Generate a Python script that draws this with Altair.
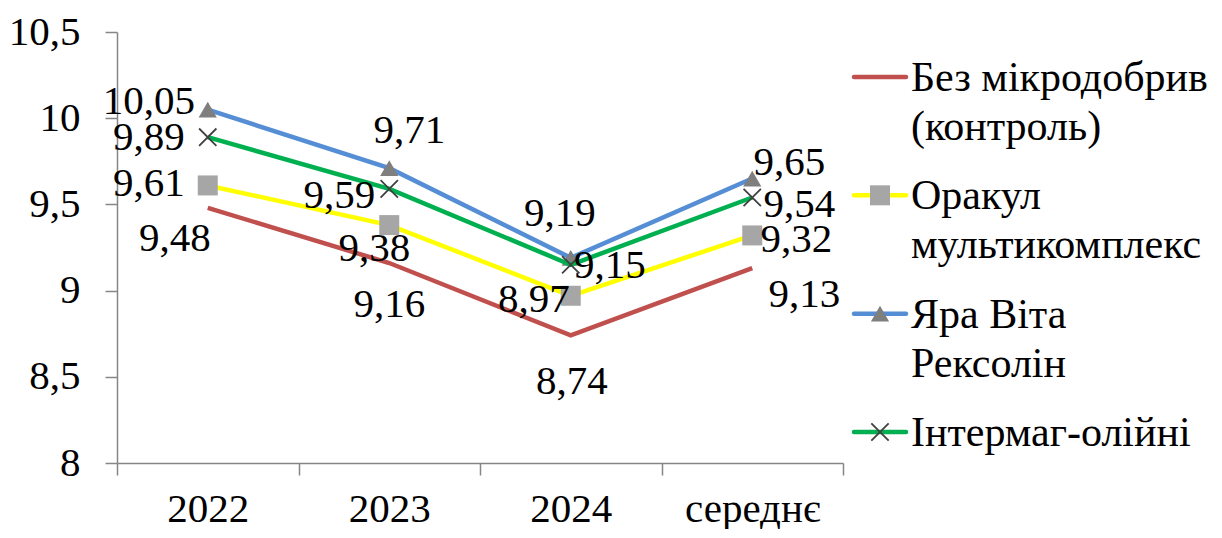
import altair as alt
import pandas as pd

categories = ["2022", "2023", "2024", "середнє"]
series_names = [
    "Без мікродобрив\n(контроль)",
    "Оракул\nмультикомплекс",
    "Яра Віта\nРексолін",
    "Інтермаг-олійні",
]
control = [9.48, 9.16, 8.74, 9.13]
oracle = [9.61, 9.38, 8.97, 9.32]
yara = [10.05, 9.71, 9.19, 9.65]
intermag = [9.89, 9.59, 9.15, 9.54]
y_ticks = [8, 8.5, 9, 9.5, 10, 10.5]

values = [control, oracle, yara, intermag]
line_colors = ["#C0504D", "#FFFF00", "#558ED5", "#00B050"]

FONT = "Times New Roman"
FS = 41

rows = []
for si, (name, vals) in enumerate(zip(series_names, values)):
    for ci, (cat, v) in enumerate(zip(categories, vals)):
        rows.append({"series": name, "s": si, "cat": cat, "c": ci, "value": v})
df = pd.DataFrame(rows)

nudge = {
    (0, 0): (-33, 31), (0, 1): (0, 42), (0, 2): (1, 47), (0, 3): (52, 27),
    (1, 0): (-59, -1), (1, 1): (-15, 24), (1, 2): (-37, 4), (1, 3): (44, 5),
    (2, 0): (-59, -8), (2, 1): (20, -37), (2, 2): (-11, -44), (2, 3): (37, -16),
    (3, 0): (-59, 1), (3, 1): (-50, 7), (3, 2): (39, 1), (3, 3): (47, 7),
}

base = alt.Chart(df)
x_enc = alt.X(
    "cat:N",
    sort=categories,
    scale=alt.Scale(type="band", paddingInner=0, paddingOuter=0),
    axis=alt.Axis(
        title=None, labelAngle=0, tickBand="extent", tickSize=12,
        labelPadding=14, domainColor="#868686", tickColor="#868686",
        domainWidth=1.5, tickWidth=1.5,
        labelFont=FONT, labelFontSize=FS, labelColor="black",
    ),
)
y_enc = alt.Y(
    "value:Q", scale=alt.Scale(domain=[8, 10.5], nice=False, zero=False),
    axis=alt.Axis(
        title=None, values=y_ticks, grid=False, tickSize=12, labelPadding=25,
        domainColor="#868686", tickColor="#868686", domainWidth=1.5, tickWidth=1.5,
        labelFont=FONT, labelFontSize=FS, labelColor="black",
        labelExpr="replace(format(datum.value, '~g'), '.', ',')",
    ),
)

main_layers = []
for si in range(4):
    main_layers.append(
        base.transform_filter(alt.datum.s == si)
        .mark_line(strokeWidth=4.5, color=line_colors[si])
        .encode(x=x_enc, y=y_enc)
    )
    if si == 1:
        main_layers.append(
            base.transform_filter(alt.datum.s == si)
            .mark_point(shape="square", filled=True, size=400, color="#A6A6A6", opacity=1)
            .encode(x=x_enc, y=y_enc)
        )
    elif si == 2:
        main_layers.append(
            base.transform_filter(alt.datum.s == si)
            .mark_point(shape="triangle-up", filled=True, size=330, color="#7F7F7F", opacity=1)
            .encode(x=x_enc, y=y_enc)
        )
    elif si == 3:
        main_layers.append(
            base.transform_filter(alt.datum.s == si)
            .mark_point(shape="M-1,-1L1,1M-1,1L1,-1", filled=False, size=300,
                        color="#404040", strokeWidth=1.8, opacity=1)
            .encode(x=x_enc, y=y_enc)
        )

for (si, ci), (dx, dy) in nudge.items():
    main_layers.append(
        base.transform_filter((alt.datum.s == si) & (alt.datum.c == ci))
        .transform_calculate(lbl="replace(format(datum.value, '.2f'), '.', ',')")
        .mark_text(font=FONT, fontSize=FS, color="black", dx=dx, dy=dy,
                   align="center", baseline="middle")
        .encode(x=x_enc, y=y_enc, text="lbl:N")
    )

main = alt.layer(*main_layers)

leg_df = pd.DataFrame({"series": series_names, "s": list(range(4))})
lbase = alt.Chart(leg_df)
ly = alt.Y("series:N", sort=series_names,
           scale=alt.Scale(type="point", domain=series_names, range=[45, 400], padding=0),
           axis=None)
leg_layers = []
for si in range(4):
    leg_layers.append(
        lbase.transform_filter(alt.datum.s == si)
        .mark_rule(strokeWidth=4.5, color=line_colors[si], strokeCap="round")
        .encode(x=alt.value(737), x2=alt.value(789), y=ly)
    )
leg_layers.append(
    lbase.transform_filter(alt.datum.s == 1)
    .mark_point(shape="square", filled=True, size=400, color="#A6A6A6", opacity=1)
    .encode(x=alt.value(763), y=ly)
)
leg_layers.append(
    lbase.transform_filter(alt.datum.s == 2)
    .mark_point(shape="triangle-up", filled=True, size=330, color="#7F7F7F", opacity=1)
    .encode(x=alt.value(763), y=ly)
)
leg_layers.append(
    lbase.transform_filter(alt.datum.s == 3)
    .mark_point(shape="M-1,-1L1,1M-1,1L1,-1", filled=False, size=300,
                color="#404040", strokeWidth=1.8, opacity=1)
    .encode(x=alt.value(763), y=ly)
)
leg_layers.append(
    lbase.mark_text(font=FONT, fontSize=42, color="black", align="left",
                    baseline="alphabetic", dy=14, lineBreak="\n", lineHeight=49)
    .encode(x=alt.value(794), y=ly, text="series:N")
)
legend = alt.layer(*leg_layers)

chart = (
    alt.layer(main, legend)
    .resolve_scale(y="independent")
    .properties(width=726, height=431, padding={"left": 0, "top": 3, "right": 0, "bottom": 0})
    .configure_view(stroke=None)
)

chart.save("out.html", embed_options={"renderer": "svg", "actions": False})
